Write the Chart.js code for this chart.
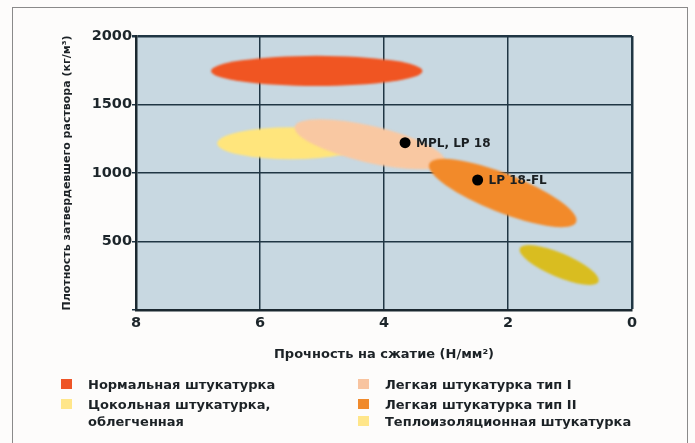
<!DOCTYPE html>
<html>
<head>
<meta charset="utf-8">
<script src="https://cdn.jsdelivr.net/npm/chart.js@4.4.1/dist/chart.umd.min.js"></script>
<style>
    html, body { margin: 0; padding: 0; background: #fdfcfb; }
    #wrap { position: relative; width: 695px; height: 443px; overflow: hidden; }
    #frame { position: absolute; left: 12px; top: 7px; width: 676px; height: 460px; border: 1.5px solid #8a8a8a; box-sizing: border-box; }
    canvas { position: absolute; left: 0; top: 0; }
    .lg-item { position: absolute; font: bold 13px "DejaVu Sans", sans-serif; color: #1c2226; line-height: 17px; white-space: pre-line; }
    .lg-box { position: absolute; width: 11px; height: 10px; }
</style>
</head>
<body>
<div id="wrap">
    <div id="frame"></div>
    <canvas id="strengthChart" width="695" height="443"></canvas>
    <div id="legend"></div>
</div>
<script>
// ranges of compressive strength (N/mm2) and density (kg/m3) per plaster type
const regionNames = [
    'Нормальная штукатурка',
    'Цокольная штукатурка,\nоблегченная',
    'Легкая штукатурка тип I',
    'Легкая штукатурка тип II',
    'Теплоизоляционная штукатурка'
];
const strengthFrom = [6.79, 6.69, 5.44, 3.27, 1.81];
const strengthTo = [3.38, 4.31, 3.02, 0.90, 0.54];
const densityFrom = [1745, 1217, 1338, 1066, 450];
const densityTo = [1745, 1217, 1082, 642, 207];
const densitySpread = [110, 117, 138, 152, 93];
const regionColors = ['#f05522', '#ffe57c', '#f9c8a2', '#f28a2a', '#d9bd20'];
const legendColors = ['#ee5527', '#ffe68a', '#f8c4a0', '#f08a2c', '#ffe68a'];

const productNames = ['MPL, LP 18', 'LP 18-FL'];
const productStrength = [3.66, 2.49];
const productDensity = [1221, 949];

const xTicks = [8, 6, 4, 2, 0];
const yTicks = [500, 1000, 1500, 2000];

// legend slots: [boxLeft, textLeft, rowTop]
const legendSlots = [[61, 88, 376], [61, 88, 396], [358, 385, 376], [358, 385, 396], [358, 385, 413]];

const plotBg = {
    id: 'plotBg',
    beforeDraw(chart) {
        const { ctx, chartArea: a } = chart;
        ctx.save();
        ctx.fillStyle = '#c8d8e1';
        ctx.fillRect(a.left, a.top, a.right - a.left, a.bottom - a.top);
        ctx.restore();
    }
};

const regions = {
    id: 'regions',
    beforeDatasetsDraw(chart) {
        const { ctx, scales: { x, y } } = chart;
        ctx.save();
        ctx.filter = 'blur(0.9px)';
        regionNames.forEach((name, i) => {
            const x1 = x.getPixelForValue(strengthFrom[i]);
            const x2 = x.getPixelForValue(strengthTo[i]);
            const y1 = y.getPixelForValue(densityFrom[i]);
            const y2 = y.getPixelForValue(densityTo[i]);
            const t = Math.abs(y.getPixelForValue(0) - y.getPixelForValue(densitySpread[i]));
            const a = Math.hypot(x2 - x1, y2 - y1) / 2;
            const th = Math.atan2(y2 - y1, x2 - x1);
            const b = Math.cos(th) / Math.sqrt(1 / (t * t) - Math.pow(Math.sin(th) / a, 2));
            ctx.beginPath();
            ctx.ellipse((x1 + x2) / 2, (y1 + y2) / 2, a, b, th, 0, Math.PI * 2);
            ctx.fillStyle = regionColors[i];
            ctx.fill();
        });
        ctx.restore();
    }
};

const pointLabels = {
    id: 'pointLabels',
    afterDatasetsDraw(chart) {
        const { ctx } = chart;
        const meta = chart.getDatasetMeta(0);
        ctx.save();
        ctx.font = 'bold 12px "DejaVu Sans"';
        ctx.fillStyle = '#1a1f22';
        ctx.textBaseline = 'middle';
        meta.data.forEach((pt, i) => {
            ctx.fillText(productNames[i], pt.x + 11, pt.y + 1);
        });
        ctx.restore();
    }
};

Chart.defaults.font.family = '"DejaVu Sans", sans-serif';

new Chart(document.getElementById('strengthChart'), {
    type: 'scatter',
    data: {
        datasets: [{
            data: productStrength.map((v, i) => ({ x: v, y: productDensity[i] })),
            pointRadius: 5.5,
            pointBackgroundColor: '#000',
            pointBorderWidth: 0
        }]
    },
    options: {
        responsive: false,
        animation: false,
        layout: { padding: { top: 36, right: 63, left: 0, bottom: 73 } },
        plugins: { legend: { display: false }, tooltip: { enabled: false } },
        scales: {
            x: {
                type: 'linear',
                min: 0,
                max: 8,
                reverse: true,
                afterFit: (s) => { s.height = 60; },
                afterBuildTicks: (s) => { s.ticks = xTicks.map((v) => ({ value: v })); },
                ticks: {
                    color: '#1d262b',
                    font: { size: 14.5, weight: 'bold' },
                    padding: 5,
                    maxRotation: 0,
                    callback: (v) => String(v)
                },
                grid: {
                    color: '#203644',
                    lineWidth: (c) => (c.tick && c.tick.value === 0 ? 2.5 : 1.5),
                    drawTicks: false
                },
                border: { color: '#1b2830', width: 2.5 },
                title: {
                    display: true,
                    text: 'Прочность на сжатие (Н/мм²)',
                    color: '#1c2226',
                    font: { size: 13, weight: 'bold' },
                    padding: { top: 0, bottom: 8 }
                }
            },
            y: {
                min: 0,
                max: 2000,
                afterFit: (s) => { s.width = 136; },
                afterBuildTicks: (s) => { s.ticks = [0].concat(yTicks).map((v) => ({ value: v })); },
                ticks: {
                    color: '#1d262b',
                    font: { size: 14.5, weight: 'bold' },
                    padding: 0,
                    callback: (v) => (v === 0 ? '' : String(v))
                },
                grid: {
                    color: '#203644',
                    lineWidth: (c) => (c.tick && c.tick.value === 2000 ? 2.5 : 1.5),
                    tickLength: 4
                },
                border: { color: '#1b2830', width: 2.5 },
                title: {
                    display: true,
                    text: 'Плотность затвердевшего раствора (кг/м³)',
                    color: '#1c2226',
                    font: { size: 11, weight: 'bold' },
                    padding: { top: 61, bottom: 0 }
                }
            }
        }
    },
    plugins: [plotBg, regions, pointLabels]
});

const legendEl = document.getElementById('legend');
legendEl.innerHTML = regionNames.map((name, i) => {
    const [bx, tx, ty] = legendSlots[i];
    return `<div class="lg-box" style="left:${bx}px;top:${ty + 3}px;background:${legendColors[i]}"></div>` +
        `<div class="lg-item" style="left:${tx}px;top:${ty}px">${name}</div>`;
}).join('');
</script>
</body>
</html>
